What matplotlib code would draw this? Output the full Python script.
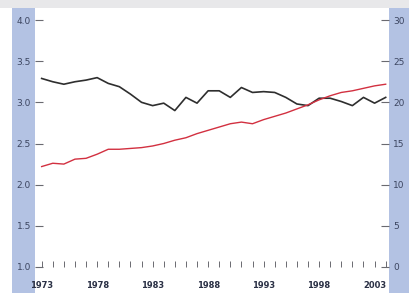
import matplotlib
matplotlib.use("Agg")
import matplotlib.pyplot as plt
from matplotlib.patches import Rectangle

years = list(range(1973, 2005))
black_left = [3.29, 3.25, 3.22, 3.25, 3.27, 3.30, 3.23, 3.19, 3.10, 3.00,
              2.96, 2.99, 2.90, 3.06, 2.99, 3.14, 3.14, 3.06, 3.18, 3.12,
              3.13, 3.12, 3.06, 2.98, 2.96, 3.05, 3.05, 3.01, 2.96, 3.06,
              2.99, 3.06]
red_right = [12.2, 12.6, 12.5, 13.1, 13.2, 13.7, 14.3, 14.3, 14.4, 14.5,
             14.7, 15.0, 15.4, 15.7, 16.2, 16.6, 17.0, 17.4, 17.6, 17.4,
             17.9, 18.3, 18.7, 19.2, 19.7, 20.3, 20.8, 21.2, 21.4, 21.7,
             22.0, 22.2]
left_ticks = [1.0, 1.5, 2.0, 2.5, 3.0, 3.5, 4.0]
left_labels = ["1.0", "1.5", "2.0", "2.5", "3.0", "3.5", "4.0"]
right_ticks = [0, 5, 10, 15, 20, 25, 30]
right_labels = ["0", "5", "10", "15", "20", "25", "30"]
x_label_years = [1973, 1978, 1983, 1988, 1993, 1998, 2003]

W, H = 410, 293
fig = plt.figure(figsize=(W / 100, H / 100), dpi=100)
fig.patch.set_facecolor("white")

# scanned-page decoration: top grey strip and blue side bands
fig.patches.append(Rectangle((0, (H - 8) / H), 1, 8 / H, transform=fig.transFigure,
                             facecolor="#e8e8ea", edgecolor="none", zorder=-1))
fig.patches.append(Rectangle((12 / W, 0), 23 / W, (H - 8) / H, transform=fig.transFigure,
                             facecolor="#b3c2e3", edgecolor="none", zorder=-1))
fig.patches.append(Rectangle((389 / W, 0), 21 / W, (H - 8) / H, transform=fig.transFigure,
                             facecolor="#b3c2e3", edgecolor="none", zorder=-1))

ax = fig.add_axes([35 / W, (H - 267) / H, 354 / W, 247 / H])
ax.set_facecolor("none")
ax.set_xlim(1972.4, 2004.3)
ax.set_ylim(1.0, 4.0)
ax2 = ax.twinx()
ax2.set_ylim(0, 30)
ax.set_zorder(1)
ax2.set_zorder(2)

ax.plot(years, black_left, color="#2e2e2e", lw=1.2, zorder=3)
ax2.plot(years, red_right, color="#d23040", lw=1.0, zorder=3)

for a in (ax, ax2):
    for s in a.spines.values():
        s.set_visible(False)

tick_col = "#6a6a70"
lab_col = "#3c4560"
ax.set_yticks(left_ticks)
ax.set_yticklabels(left_labels)
ax.tick_params(axis="y", direction="in", length=6, width=0.8, color=tick_col,
               labelsize=6.5, labelcolor=lab_col, pad=3)
ax2.set_yticks(right_ticks)
ax2.set_yticklabels(right_labels)
ax2.tick_params(axis="y", direction="in", length=6, width=0.8, color=tick_col,
                labelsize=6.5, labelcolor=lab_col, pad=3)

ax.set_xticks(x_label_years)
ax.set_xticklabels([str(y) for y in x_label_years])
ax.set_xticks(years, minor=True)
ax.tick_params(axis="x", which="major", direction="in", length=4, width=0.7,
               color=tick_col, labelsize=6, labelcolor="#2a3045", pad=10)
ax.tick_params(axis="x", which="minor", direction="in", length=4, width=0.7,
               color=tick_col)
for lbl in ax.get_xticklabels():
    lbl.set_fontweight("bold")

fig.savefig("out.png", dpi=100)
